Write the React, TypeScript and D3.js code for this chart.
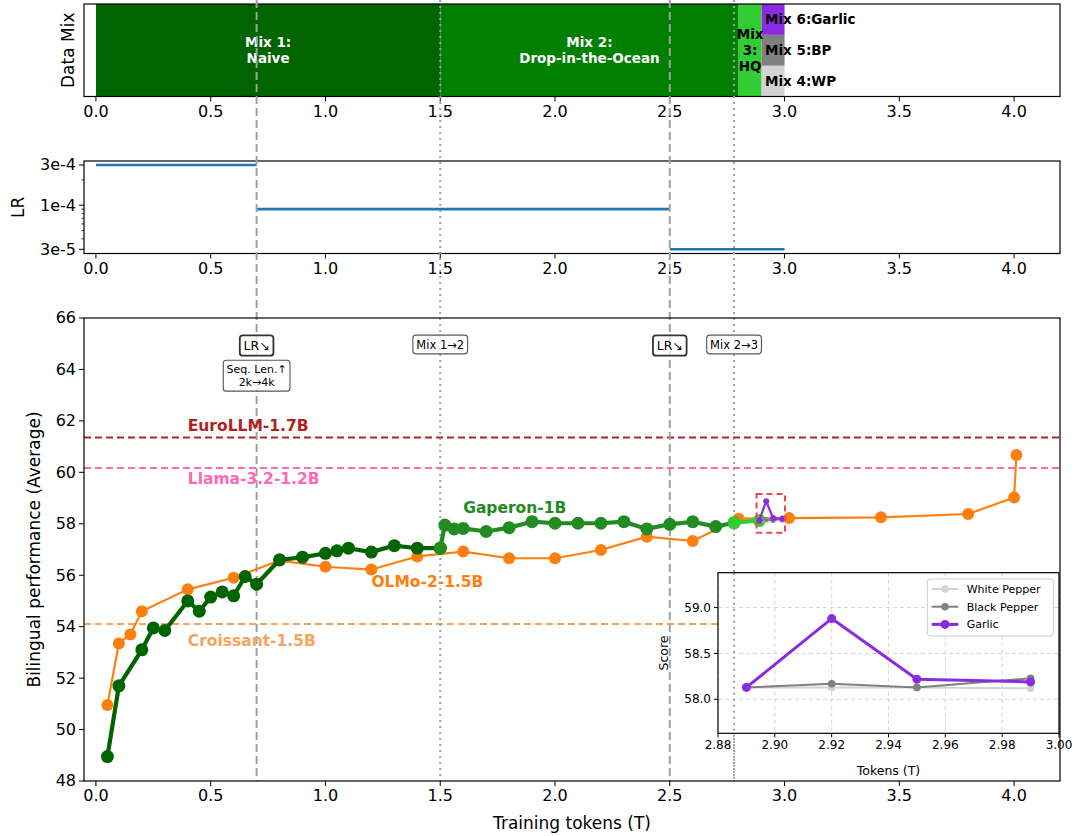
import React from 'react';
import * as d3 from 'd3';

const width = 1076;
const height = 836;
const font = 'DejaVu Sans, sans-serif';

// data mix schedule
const mixLabels = [['Mix 1:', 'Naive'], ['Mix 2:', 'Drop-in-the-Ocean'], ['Mix', '3:', 'HQ']];
const mixStarts = [0, 1.5, 2.8];
const mixEnds = [1.5, 2.8, 2.9];
const mixColors = ['#006400', '#008000', '#32cd32'];
const finalMixLabels = ['Mix 4:WP', 'Mix 5:BP', 'Mix 6:Garlic'];
const finalMixColors = ['#d3d3d3', '#808080', '#8a2be2'];
const finalMixSpan = [2.9, 3.0];

// learning rate schedule
const lrStarts = [0, 0.7, 2.5];
const lrEnds = [0.7, 2.5, 3.0];
const lrValues = [3e-4, 9e-5, 3e-5];
const lrTicks = [3e-4, 1e-4, 3e-5];
const lrTickLabels = ['3e-4', '1e-4', '3e-5'];
const lrMinorTicks = [2e-4, 9e-5, 8e-5, 7e-5, 6e-5, 5e-5, 4e-5];

const lrChanges = [0.7, 2.5];
const mixChanges = [1.5, 2.78];
const xTicks = [0, 0.5, 1, 1.5, 2, 2.5, 3, 3.5, 4];
const yTicks = [48, 50, 52, 54, 56, 58, 60, 62, 64, 66];

// OLMo-2-1.5B
const olmoTokens = [0.05, 0.1, 0.15, 0.2, 0.4, 0.6, 0.8, 1.0, 1.2, 1.4, 1.6, 1.8, 2.0, 2.2, 2.4, 2.6, 2.8, 3.02, 3.42, 3.8, 4.0, 4.01];
const olmoScores = [50.95, 53.35, 53.7, 54.6, 55.45, 55.9, 56.57, 56.33, 56.22, 56.73, 56.92, 56.66, 56.66, 56.98, 57.5, 57.33, 58.2, 58.22, 58.25, 58.38, 59.02, 60.67];

// Gaperon-1B, one run per data mix
const mix1Tokens = [0.05, 0.1, 0.2, 0.25, 0.3, 0.4, 0.45, 0.5, 0.55, 0.6, 0.65, 0.7, 0.8, 0.9, 1.0, 1.05, 1.1, 1.2, 1.3, 1.4, 1.5];
const mix1Scores = [48.95, 51.7, 53.1, 53.95, 53.85, 55.0, 54.6, 55.15, 55.35, 55.2, 55.95, 55.65, 56.6, 56.7, 56.85, 56.95, 57.05, 56.9, 57.15, 57.05, 57.05];
const mix2Tokens = [1.5, 1.52, 1.56, 1.6, 1.7, 1.8, 1.9, 2.0, 2.1, 2.2, 2.3, 2.4, 2.5, 2.6, 2.7, 2.78];
const mix2Scores = [57.05, 57.95, 57.8, 57.82, 57.7, 57.85, 58.08, 58.02, 58.02, 58.02, 58.08, 57.8, 57.98, 58.08, 57.89, 58.04];
const mix3Tokens = [2.78, 2.89];
const mix3Scores = [58.04, 58.13];

// final mixes
const pepperTokens = [2.89, 2.92, 2.95, 2.99];
const whitePepper = [58.13, 58.13, 58.13, 58.12];
const blackPepper = [58.13, 58.17, 58.13, 58.23];
const garlic = [58.13, 58.88, 58.22, 58.19];

// reference models
const baselineNames = ['EuroLLM-1.7B', 'Llama-3.2-1.2B', 'Croissant-1.5B'];
const baselineScores = [61.35, 60.17, 54.1];
const baselineColors = ['#b22222', '#ff69b4', '#f4a460'];

const insetXTicks = [2.88, 2.9, 2.92, 2.94, 2.96, 2.98, 3.0];
const insetYTicks = [58.0, 58.5, 59.0];

const zip = (a: number[], b: number[]) => a.map((v, i) => [v, b[i]] as [number, number]);

let ctx: CanvasRenderingContext2D | null = null;
const textWidth = (t: string, f: string) => {
  if (!ctx) ctx = document.createElement('canvas').getContext('2d');
  if (!ctx) return t.length * 7;
  ctx.font = f;
  return ctx.measureText(t).width;
};

function NoteBox({ cx, cy, lines, size, stroke, sw }: any) {
  const lh = size * 1.18;
  const w = d3.max(lines, (l: string) => textWidth(l, `${size}px DejaVu Sans`)) as number + size * 0.6;
  const h = lines.length * lh + size * 0.45;
  return (
    <g>
      <rect x={cx - w / 2} y={cy - h / 2} width={w} height={h} rx={3} fill="#fff" fillOpacity={0.8} stroke={stroke} strokeWidth={sw} />
      {lines.map((l: string, i: number) => (
        <text key={i} x={cx} y={cy - (lines.length - 1) * lh / 2 + i * lh} dy="0.36em" textAnchor="middle" fontSize={size} fill="#000">{l}</text>
      ))}
    </g>
  );
}

export default function App() {
  const x = d3.scaleLinear().domain([-0.052, 4.2]).range([84, 1060]);
  const left = 84, right = 1060;

  const mixTop = 4, mixBottom = 96.5;
  const yMix = d3.scaleLinear().domain([0, 1]).range([mixBottom, mixTop]);

  const lrTop = 161, lrBottom = 253.5;
  const yLr = d3.scaleLog().domain([3e-4, 3e-5]).range([165, 249.3]);

  const mainTop = 318, mainBottom = 781;
  const y = d3.scaleLinear().domain([48, 66]).range([mainBottom, mainTop]);

  const line = d3.line<[number, number]>().x(d => x(d[0])).y(d => y(d[1]));

  const ix = d3.scaleLinear().domain([2.88, 3.0]).range([718, 1059]);
  const iy = d3.scaleLinear().domain([57.63, 59.38]).range([733.3, 572.7]);
  const iline = d3.line<[number, number]>().x(d => ix(d[0])).y(d => iy(d[1]));

  const tickFs = 16;

  const xAxis = (y0: number) => (
    <g>
      {xTicks.map(t => (
        <g key={t}>
          <line x1={x(t)} x2={x(t)} y1={y0} y2={y0 + 5} stroke="#000" strokeWidth={1} />
          <text x={x(t)} y={y0 + 9} dy="0.71em" textAnchor="middle" fontSize={tickFs}>{t.toFixed(1)}</text>
        </g>
      ))}
    </g>
  );

  const series = (pts: [number, number][], color: string, lw: number, r: number, key: string) => (
    <g key={key}>
      <path d={line(pts) || ''} fill="none" stroke={color} strokeWidth={lw} strokeLinejoin="round" />
      {pts.map((p, i) => <circle key={i} cx={x(p[0])} cy={y(p[1])} r={r} fill={color} />)}
    </g>
  );

  const iseries = (pts: [number, number][], color: string, lw: number, r: number, key: string) => (
    <g key={key}>
      <path d={iline(pts) || ''} fill="none" stroke={color} strokeWidth={lw} strokeLinejoin="round" />
      {pts.map((p, i) => <circle key={i} cx={ix(p[0])} cy={iy(p[1])} r={r} fill={color} />)}
    </g>
  );

  const legendRows = [
    { label: 'White Pepper', color: '#d3d3d3', lw: 2, r: 3.8 },
    { label: 'Black Pepper', color: '#808080', lw: 2, r: 3.8 },
    { label: 'Garlic', color: '#8a2be2', lw: 3, r: 4.5 },
  ];

  return (
    <svg width={width} height={height} style={{ position: 'absolute', left: 0, top: 0, background: '#fff' }} fontFamily={font}>
      <rect width={width} height={height} fill="#fff" />

      {/* data mix panel */}
      {mixStarts.map((s, i) => (
        <rect key={i} x={x(s)} y={mixTop} width={x(mixEnds[i]) - x(s)} height={mixBottom - mixTop} fill={mixColors[i]} />
      ))}
      {finalMixLabels.map((l, i) => (
        <rect key={l} x={x(finalMixSpan[0])} y={yMix((i + 1) / 3)} width={x(finalMixSpan[1]) - x(finalMixSpan[0])}
          height={yMix(i / 3) - yMix((i + 1) / 3)} fill={finalMixColors[i]} />
      ))}
      {mixLabels.map((lines, i) => {
        const cx = x((mixStarts[i] + mixEnds[i]) / 2);
        const lh = 16;
        return lines.map((l, j) => (
          <text key={`${i}-${j}`} x={cx} y={50 - (lines.length - 1) * lh / 2 + j * lh} dy="0.36em" textAnchor="middle"
            fontSize={13.5} fontWeight="bold" fill={i < 2 ? '#fff' : '#000'}>{l}</text>
        ));
      })}
      {finalMixLabels.map((l, i) => (
        <text key={l} x={x(2.915)} y={yMix((i + 0.5) / 3)} dy="0.36em" fontSize={13.5} fontWeight="bold">{l}</text>
      ))}
      <rect x={left} y={mixTop} width={right - left} height={mixBottom - mixTop} fill="none" stroke="#000" strokeWidth={1.2} />
      {xAxis(mixBottom)}
      <text transform={`translate(74,${(mixTop + mixBottom) / 2}) rotate(-90)`} textAnchor="middle" fontSize={17}>Data Mix</text>

      {/* learning rate panel */}
      {lrStarts.map((s, i) => (
        <line key={i} x1={x(s)} x2={x(lrEnds[i])} y1={yLr(lrValues[i])} y2={yLr(lrValues[i])} stroke="#1f77b4" strokeWidth={2.6} />
      ))}
      <rect x={left} y={lrTop} width={right - left} height={lrBottom - lrTop} fill="none" stroke="#000" strokeWidth={1.2} />
      {lrTicks.map((t, i) => (
        <g key={t}>
          <line x1={left - 5} x2={left} y1={yLr(t)} y2={yLr(t)} stroke="#000" />
          <text x={left - 8} y={yLr(t)} dy="0.34em" textAnchor="end" fontSize={tickFs}>{lrTickLabels[i]}</text>
        </g>
      ))}
      {lrMinorTicks.map(t => (
        <line key={t} x1={left - 2.5} x2={left} y1={yLr(t)} y2={yLr(t)} stroke="#000" strokeWidth={0.8} />
      ))}
      {xAxis(lrBottom)}
      <text transform={`translate(24,${(lrTop + lrBottom) / 2}) rotate(-90)`} textAnchor="middle" fontSize={17}>LR</text>

      {/* main panel */}
      <rect x={left} y={mainTop} width={right - left} height={mainBottom - mainTop} fill="#fff" />
      {baselineNames.map((n, i) => (
        <line key={n} x1={left} x2={right} y1={y(baselineScores[i])} y2={y(baselineScores[i])}
          stroke={baselineColors[i]} strokeWidth={2} strokeDasharray="7,4" />
      ))}

      {/* schedule change markers across all panels */}
      {lrChanges.map(c => (
        <line key={c} x1={x(c)} x2={x(c)} y1={0} y2={mainBottom} stroke="#a0a0a0" strokeWidth={2} strokeDasharray="8,4" />
      ))}
      {mixChanges.map(c => (
        <line key={c} x1={x(c)} x2={x(c)} y1={0} y2={mainBottom} stroke="#a0a0a0" strokeWidth={2} strokeDasharray="2,4" />
      ))}

      <text x={x(0.4)} y={y(61.83)} dy="0.36em" fontSize={15.5} fontWeight="bold" fill={baselineColors[0]}>{baselineNames[0]}</text>
      <text x={x(0.4)} y={y(59.78)} dy="0.36em" fontSize={15.5} fontWeight="bold" fill={baselineColors[1]}>{baselineNames[1]}</text>
      <text x={x(0.4)} y={y(53.48)} dy="0.36em" fontSize={15.5} fontWeight="bold" fill={baselineColors[2]}>{baselineNames[2]}</text>

      {series(zip(olmoTokens, olmoScores), '#ff7f0e', 2.2, 6, 'olmo')}
      {series(zip(mix1Tokens, mix1Scores), '#006400', 4.2, 6.5, 'm1')}
      {series(zip(mix2Tokens, mix2Scores), '#228b22', 4.2, 6.5, 'm2')}
      {series(zip(mix3Tokens, mix3Scores), '#32cd32', 4.2, 6.5, 'm3')}
      {series(zip(pepperTokens, whitePepper), '#d3d3d3', 2, 2.5, 'wp')}
      {series(zip(pepperTokens, blackPepper), '#808080', 2, 2.5, 'bp')}
      {series(zip(pepperTokens, garlic), '#8a2be2', 2.2, 3, 'g')}

      <rect x={x(2.878)} y={y(59.16)} width={x(3.002) - x(2.878)} height={y(57.65) - y(59.16)} fill="none"
        stroke="#f04848" strokeWidth={2} strokeDasharray="6,4" />

      <text x={x(1.6)} y={y(58.65)} dy="0.36em" fontSize={15.5} fontWeight="bold" fill="#228b22">Gaperon-1B</text>
      <text x={x(1.2)} y={y(55.75)} dy="0.36em" fontSize={15.5} fontWeight="bold" fill="#ff7f0e">OLMo-2-1.5B</text>

      <NoteBox cx={x(0.7)} cy={345.5} lines={['LR\u2198']} size={12.5} stroke="#333" sw={1.8} />
      <NoteBox cx={x(0.7)} cy={375.7} lines={['Seq. Len.\u2191', '2k\u21924k']} size={11} stroke="#555" sw={1.1} />
      <NoteBox cx={x(1.5)} cy={344.5} lines={['Mix 1\u21922']} size={11.5} stroke="#555" sw={1.1} />
      <NoteBox cx={x(2.5)} cy={345.5} lines={['LR\u2198']} size={12.5} stroke="#333" sw={1.8} />
      <NoteBox cx={x(2.78)} cy={344.5} lines={['Mix 2\u21923']} size={11.5} stroke="#555" sw={1.1} />

      <rect x={left} y={mainTop} width={right - left} height={mainBottom - mainTop} fill="none" stroke="#000" strokeWidth={1.2} />
      {yTicks.map(t => (
        <g key={t}>
          <line x1={left - 5} x2={left} y1={y(t)} y2={y(t)} stroke="#000" />
          <text x={left - 8} y={y(t)} dy="0.34em" textAnchor="end" fontSize={tickFs}>{t}</text>
        </g>
      ))}
      {xAxis(mainBottom)}
      <text x={(left + right) / 2} y={829} textAnchor="middle" fontSize={17}>Training tokens (T)</text>
      <text transform={`translate(40,${(mainTop + mainBottom) / 2}) rotate(-90)`} textAnchor="middle" fontSize={17}>Bilingual performance (Average)</text>

      {/* inset zoom on the final mixes */}
      <rect x={718} y={572.7} width={341} height={160.6} fill="#fff" />
      {insetXTicks.map(t => (
        <line key={t} x1={ix(t)} x2={ix(t)} y1={572.7} y2={733.3} stroke="#ccc" strokeWidth={0.8} strokeDasharray="4,3" />
      ))}
      {insetYTicks.map(t => (
        <line key={t} x1={718} x2={1059} y1={iy(t)} y2={iy(t)} stroke="#ccc" strokeWidth={0.8} strokeDasharray="4,3" />
      ))}
      {iseries(zip(pepperTokens, whitePepper), '#d3d3d3', 2, 3.8, 'iwp')}
      {iseries(zip(pepperTokens, blackPepper), '#808080', 2, 3.8, 'ibp')}
      {iseries(zip(pepperTokens, garlic), '#8a2be2', 3, 4.5, 'ig')}
      <line x1={x(2.78)} x2={x(2.78)} y1={572.7} y2={mainBottom} stroke="#a0a0a0" strokeWidth={2} strokeDasharray="2,4" />
      <rect x={718} y={572.7} width={341} height={160.6} fill="none" stroke="#000" strokeWidth={1.2} />
      {insetXTicks.map(t => (
        <g key={t}>
          <line x1={ix(t)} x2={ix(t)} y1={733.3} y2={737.3} stroke="#000" />
          <text x={ix(t)} y={740} dy="0.71em" textAnchor="middle" fontSize={12}>{t.toFixed(2)}</text>
        </g>
      ))}
      {insetYTicks.map(t => (
        <g key={t}>
          <line x1={714} x2={718} y1={iy(t)} y2={iy(t)} stroke="#000" />
          <text x={711} y={iy(t)} dy="0.34em" textAnchor="end" fontSize={12}>{t.toFixed(1)}</text>
        </g>
      ))}
      <text x={(718 + 1059) / 2} y={775} textAnchor="middle" fontSize={12.5}>Tokens (T)</text>
      <text transform={`translate(668,${(572.7 + 733.3) / 2}) rotate(-90)`} textAnchor="middle" fontSize={12.5}>Score</text>

      <rect x={927.3} y={579} width={126} height={57} rx={3} fill="#fff" fillOpacity={0.85} stroke="#ccc" />
      {legendRows.map((r, i) => (
        <g key={r.label}>
          <line x1={931.7} x2={958.3} y1={589 + i * 17.7} y2={589 + i * 17.7} stroke={r.color} strokeWidth={r.lw} />
          <circle cx={945} cy={589 + i * 17.7} r={r.r} fill={r.color} />
          <text x={966.7} y={589 + i * 17.7} dy="0.36em" fontSize={11}>{r.label}</text>
        </g>
      ))}
    </svg>
  );
}
